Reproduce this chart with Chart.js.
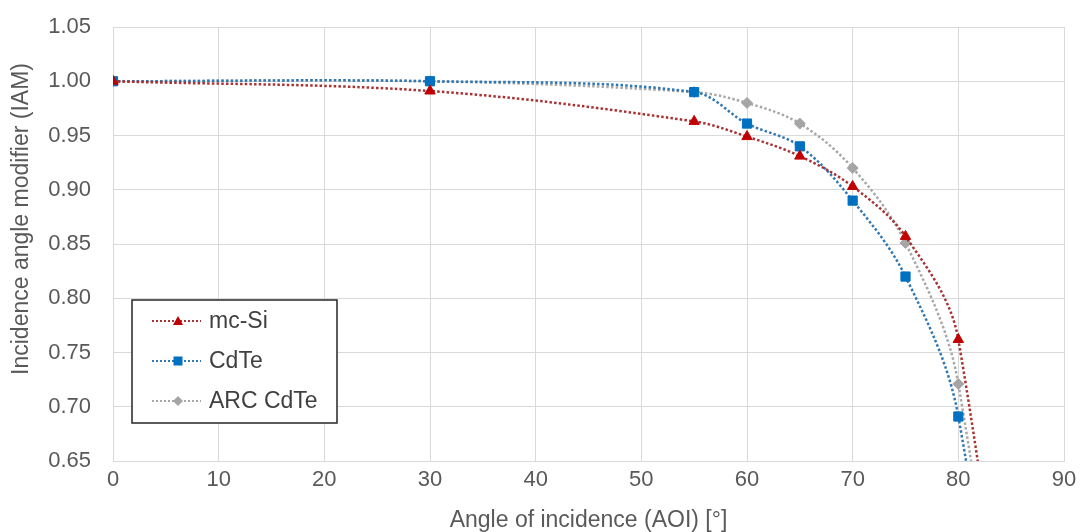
<!DOCTYPE html>
<html>
<head>
<meta charset="utf-8">
<script src="https://cdn.jsdelivr.net/npm/chart.js@4/dist/chart.umd.min.js"></script>
<style>
  html, body { margin: 0; padding: 0; background: #fff; }
  #wrap { position: relative; width: 1080px; height: 532px; }
</style>
</head>
<body>
<div id="wrap"><canvas id="chart" width="1080" height="532"></canvas></div>
<script>
// Angle of incidence [deg]; the 90 deg point only drives the curve below the axis
const angles = [0, 30, 55, 60, 65, 70, 75, 80, 90];
const mcSi = [1.000, 0.991, 0.963, 0.949, 0.931, 0.903, 0.857, 0.762, 0];
const cdTe = [1.000, 1.000, 0.990, 0.961, 0.940, 0.890, 0.820, 0.691, 0];
const arcCdTe = [1.000, 1.000, 0.990, 0.980, 0.961, 0.920, 0.851, 0.721, 0];
const seriesNames = ["mc-Si", "CdTe", "ARC CdTe"];
const xTitle = "Angle of incidence (AOI) [°]";
const yTitle = "Incidence angle modifier (IAM)";

const FONT = '"Liberation Sans", Arial, sans-serif';
const textColor = "#595959";
const gridColor = "#d9d9d9";

const toPoints = (ys) => angles.map((x, i) => ({ x, y: ys[i] }));

const styles = [
  { line: "#a83232", marker: "#c00000", pointStyle: "triangle", radius: 6 },
  { line: "#2f78b4", marker: "#0070c0", pointStyle: "rect", radius: 6.5 },
  { line: "#a8a8a8", marker: "#a5a5a5", pointStyle: "rectRot", radius: 5.5 },
];

const makeDataset = (label, ys, st) => ({
  label,
  data: toPoints(ys),
  borderColor: st.line,
  borderWidth: 2.5,
  borderDash: [2.5, 2.2],
  backgroundColor: st.marker,
  pointStyle: st.pointStyle,
  pointRadius: st.radius,
  pointBackgroundColor: st.marker,
  pointBorderColor: st.marker,
  pointBorderWidth: 1,
  tension: 0.35,
  fill: false,
});

// y axis title, placed like the original (a bit above the plot centre)
const yTitlePlugin = {
  id: "yTitle",
  afterDraw(chart) {
    const ctx = chart.ctx;
    ctx.save();
    ctx.translate(22, 219);
    ctx.rotate(-Math.PI / 2);
    ctx.font = "23px " + FONT;
    ctx.fillStyle = textColor;
    ctx.textAlign = "center";
    ctx.textBaseline = "middle";
    ctx.fillText(yTitle, 0, 0);
    ctx.restore();
  },
};

// boxed legend inside the plot area
const boxLegend = {
  id: "boxLegend",
  afterDraw(chart) {
    const ctx = chart.ctx;
    const box = { x: 132, y: 300, w: 205, h: 123 };
    const rows = [321, 361, 401];
    ctx.save();
    ctx.fillStyle = "#fff";
    ctx.fillRect(box.x, box.y, box.w, box.h);
    ctx.strokeStyle = "#262626";
    ctx.lineWidth = 1.5;
    ctx.setLineDash([]);
    ctx.strokeRect(box.x, box.y, box.w, box.h);

    chart.data.datasets.forEach((ds, i) => {
      const y = rows[i];
      ctx.strokeStyle = ds.borderColor;
      ctx.lineWidth = 2;
      ctx.setLineDash([2, 2]);
      ctx.beginPath();
      ctx.moveTo(152, y);
      ctx.lineTo(201, y);
      ctx.stroke();
      ctx.setLineDash([]);

      ctx.fillStyle = ds.pointBackgroundColor;
      const cx = 178;
      ctx.beginPath();
      if (ds.pointStyle === "triangle") {
        ctx.moveTo(cx, y - 5);
        ctx.lineTo(cx + 5, y + 4);
        ctx.lineTo(cx - 5, y + 4);
      } else if (ds.pointStyle === "rect") {
        ctx.rect(cx - 4.5, y - 4.5, 9, 9);
      } else {
        ctx.moveTo(cx, y - 5);
        ctx.lineTo(cx + 5, y);
        ctx.lineTo(cx, y + 5);
        ctx.lineTo(cx - 5, y);
      }
      ctx.closePath();
      ctx.fill();

      ctx.font = "23px " + FONT;
      ctx.fillStyle = "#404040";
      ctx.textAlign = "left";
      ctx.textBaseline = "middle";
      ctx.fillText(ds.label, 209, y + 1);
    });
    ctx.restore();
  },
};

new Chart(document.getElementById("chart"), {
  type: "line",
  data: {
    datasets: [
      makeDataset(seriesNames[0], mcSi, styles[0]),
      makeDataset(seriesNames[1], cdTe, styles[1]),
      makeDataset(seriesNames[2], arcCdTe, styles[2]),
    ],
  },
  options: {
    responsive: false,
    animation: false,
    devicePixelRatio: 1,
    elements: { line: { capBezierPoints: false } },
    layout: { padding: { left: 0, right: 16, top: 27, bottom: 0 } },
    scales: {
      x: {
        type: "linear",
        min: 0,
        max: 90,
        ticks: {
          stepSize: 10,
          color: textColor,
          font: { family: FONT, size: 22 },
          padding: 6,
          maxRotation: 0,
        },
        grid: { color: gridColor, lineWidth: 1, drawTicks: false },
        border: { color: gridColor },
        title: {
          display: true,
          text: xTitle,
          color: textColor,
          font: { family: FONT, size: 23, lineHeight: 1 },
          padding: { top: 0, bottom: 0 },
        },
        afterFit(scale) {
          scale.height = 71;
          scale.paddingLeft = 0;
          scale.paddingRight = 0;
        },
      },
      y: {
        min: 0.65,
        max: 1.05,
        ticks: {
          stepSize: 0.05,
          color: textColor,
          font: { family: FONT, size: 22 },
          padding: 22,
          callback: (v) => Number(v).toFixed(2),
        },
        grid: { color: gridColor, lineWidth: 1, drawTicks: false },
        border: { color: gridColor },
        afterFit(scale) {
          scale.width = 113;
          scale.paddingTop = 0;
          scale.paddingBottom = 0;
        },
      },
    },
    plugins: {
      legend: { display: false },
      tooltip: { enabled: false },
    },
  },
  plugins: [yTitlePlugin, boxLegend],
});
</script>
</body>
</html>
